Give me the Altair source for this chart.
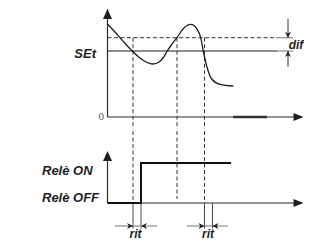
import altair as alt
import pandas as pd

# ---------------- data (diagram units) ----------------
# time t (horizontal), temperature T (upper panel), relay state R (lower panel)
curve_t = [0.0, 0.65, 1.25, 1.85, 2.48, 3.25, 3.95, 4.55, 5.15, 5.55, 5.95, 6.45,
           6.95, 7.55, 7.95, 8.32, 8.65, 8.95, 9.32, 9.58, 9.92, 10.42, 11.25, 12.58]
curve_T = [9.3, 8.6, 7.93, 7.25, 6.6, 5.9, 5.45, 5.3, 5.5, 5.9, 6.55, 7.3,
           7.93, 8.8, 9.15, 9.27, 9.15, 8.8, 7.93, 6.6, 5.1, 3.8, 3.27, 3.1]
set_point = 6.6
differential = 1.33
crossing_t = [2.55, 6.95, 9.7]
crossing_end_R = [0.0, 0.1, 0.0]
delay = 0.8
relay_t = [0.0, 3.35, 3.35, 12.35]
relay_R = [0, 0, 1, 1]
relay_labels = ["Relè ON", "Relè OFF"]
relay_levels = [0.71, 0.02]
rit_label_t = [2.8, 10.05]

# ---------------- layout ----------------
W = 296
H_UP, H_LO = 120, 110
X_DOM = [-9.95, 19.65]
T_DOM = [-1.2, 10.8]
R_DOM = [-0.95, 1.8]
X_TIP = 19.6

xs = alt.Scale(domain=X_DOM, nice=False, zero=False)
ts = alt.Scale(domain=T_DOM, nice=False, zero=False)
rs = alt.Scale(domain=R_DOM, nice=False, zero=False)

FONT = "Liberation Sans"
INK = "#1e1e1e"

ARROW_UP = "M0,0L0.9,2L-0.9,2Z"
ARROW_RIGHT = "M0,0L-2,-0.8L-2,0.8Z"
HEAD_R = "M0,0L-2,-1L-1.4,0L-2,1Z"
HEAD_L = "M0,0L2,-1L1.4,0L2,1Z"
HEAD_D = "M0,0L-1,-2L0,-1.4L1,-2Z"
HEAD_U = "M0,0L-1,2L0,1.4L1,2Z"


def seg(rows, ys, **mk):
    df = pd.DataFrame(rows, columns=["x", "y", "x2", "y2"])
    return alt.Chart(df).mark_rule(**mk).encode(
        x=alt.X("x:Q", scale=xs, axis=None),
        y=alt.Y("y:Q", scale=ys, axis=None),
        x2="x2:Q", y2="y2:Q")


def pts(rows, ys, shape, size, color=INK):
    df = pd.DataFrame(rows, columns=["x", "y"])
    return alt.Chart(df).mark_point(
        shape=shape, size=size, filled=True, fill=color, opacity=1, strokeWidth=0,
        clip=True
    ).encode(
        x=alt.X("x:Q", scale=xs, axis=None),
        y=alt.Y("y:Q", scale=ys, axis=None))


def txt(rows, ys, align, baseline="alphabetic", **mk):
    df = pd.DataFrame(rows, columns=["x", "y", "label"])
    return alt.Chart(df).mark_text(align=align, baseline=baseline, **mk).encode(
        x=alt.X("x:Q", scale=xs, axis=None),
        y=alt.Y("y:Q", scale=ys, axis=None),
        text="label:N")


upper_hi = set_point + differential

# ---------------- upper panel ----------------
curve_df = pd.DataFrame({"x": curve_t, "y": curve_T})
curve = alt.Chart(curve_df).mark_line(interpolate="monotone", color=INK, strokeWidth=1.3).encode(
    x=alt.X("x:Q", scale=xs, axis=None), y=alt.Y("y:Q", scale=ts, axis=None))

up = alt.layer(
    seg([(0, 0, 0, T_DOM[1]), (0, 0, X_TIP - 0.6, 0)], ts, color="#2b2b2b", strokeWidth=1.2),
    seg([(12.55, 0, 15.95, 0)], ts, color="#333333", strokeWidth=2.6),
    seg([(t, upper_hi, t, T_DOM[0]) for t in crossing_t], ts,
        color="#333333", strokeWidth=1, strokeDash=[4, 2.5]),
    seg([(0, set_point, 16.95, set_point)], ts, color=INK, strokeWidth=1.1),
    seg([(0, upper_hi, 16.95, upper_hi)], ts, color="#333333", strokeWidth=1, strokeDash=[4, 2.5]),
    seg([(16.95, set_point, 18.55, set_point), (16.95, upper_hi, 18.55, upper_hi)], ts,
        color="#8a8a8a", strokeWidth=1.2),
    seg([(18.05, 9.8, 18.05, upper_hi), (18.05, set_point, 18.05, 5.0)], ts,
        color="#333333", strokeWidth=1),
    curve,
    pts([(0, T_DOM[1])], ts, ARROW_UP, 100),
    pts([(X_TIP, 0)], ts, ARROW_RIGHT, 100),
    pts([(18.05, upper_hi)], ts, HEAD_D, 36),
    pts([(18.05, set_point)], ts, HEAD_U, 36),
    txt([(-1.15, 5.93, "SEt")], ts, "right", font=FONT, fontSize=13,
        fontWeight="bold", fontStyle="italic", color=INK),
    txt([(19.58, 6.8, "dif")], ts, "right", font=FONT, fontSize=12,
        fontWeight="bold", fontStyle="italic", color=INK),
    txt([(-0.35, -0.33, "0")], ts, "right", font="Liberation Serif", fontSize=11,
        color="#555555"),
).properties(width=W, height=H_UP)

# ---------------- lower panel ----------------
relay_df = pd.DataFrame({"x": relay_t, "y": relay_R, "i": list(range(len(relay_t)))})
relay = alt.Chart(relay_df).mark_line(color="#111111", strokeWidth=2, strokeJoin="miter").encode(
    x=alt.X("x:Q", scale=xs, axis=None), y=alt.Y("y:Q", scale=rs, axis=None), order="i:Q")

t_on = crossing_t[0] + delay
t_off = crossing_t[2] + delay
rit_y = -0.575

lo = alt.layer(
    seg([(t, R_DOM[1], t, e) for t, e in zip(crossing_t, crossing_end_R)], rs,
        color="#333333", strokeWidth=1, strokeDash=[4, 2.5]),
    seg([(0, 0, 0, 1.1), (0, 0, X_TIP - 0.6, 0)], rs, color="#2b2b2b", strokeWidth=1.2),
    seg([(t, 0, t, -0.64) for t in [crossing_t[0], t_on, crossing_t[2], t_off]], rs,
        color="#333333", strokeWidth=0.9),
    seg([(0.75, rit_y, 4.95, rit_y), (7.95, rit_y, 12.05, rit_y)], rs,
        color="#777777", strokeWidth=1.2),
    relay,
    pts([(0, 1.3)], rs, ARROW_UP, 100),
    pts([(X_TIP, 0)], rs, ARROW_RIGHT, 100),
    pts([(crossing_t[0], rit_y), (crossing_t[2], rit_y)], rs, HEAD_R, 36),
    pts([(t_on, rit_y), (t_off, rit_y)], rs, HEAD_L, 36),
    txt([(-6.55, lv, lb) for lv, lb in zip(relay_levels, relay_labels)], rs, "left",
        font=FONT, fontSize=13, fontWeight="bold", fontStyle="italic", color=INK),
    txt([(t, -0.945, "rit") for t in rit_label_t], rs, "center", baseline="bottom",
        font=FONT, fontSize=12, fontWeight="bold", fontStyle="italic", color=INK),
).properties(width=W, height=H_LO)

chart = alt.vconcat(up, lo, spacing=0).properties(
    padding=0, background="white"
).configure_view(strokeWidth=0)

chart.save("out.html", embed_options={"renderer": "svg", "actions": False})
